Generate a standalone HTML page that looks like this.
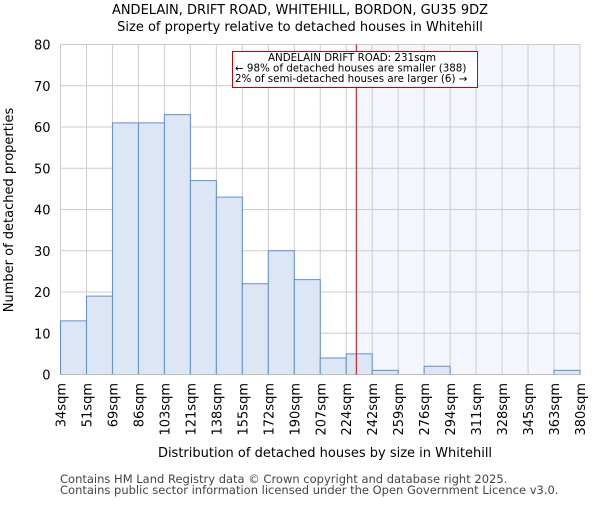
<!DOCTYPE html>
<html><head><meta charset="utf-8"><style>body{margin:0;background:#fff}svg{font-family:"DejaVu Sans","Liberation Sans",sans-serif}</style></head>
<body>
<svg id="c" width="600" height="500" xmlns="http://www.w3.org/2000/svg">
<text x="300" y="14" text-anchor="middle" font-size="13">ANDELAIN, DRIFT ROAD, WHITEHILL, BORDON, GU35 9DZ</text>
<text x="300" y="31" text-anchor="middle" font-size="13">Size of property relative to detached houses in Whitehill</text>
<g id="plot"></g>
<text x="325" y="457" text-anchor="middle" font-size="13">Distribution of detached houses by size in Whitehill</text>
<text transform="translate(13,210) rotate(-90)" text-anchor="middle" font-size="13">Number of detached properties</text>
<text x="60" y="483" font-size="11.5" fill="#444">Contains HM Land Registry data © Crown copyright and database right 2025.</text>
<text x="60" y="494" font-size="11.5" fill="#444">Contains public sector information licensed under the Open Government Licence v3.0.</text>
</svg>
<script>
const labels=["34sqm","51sqm","69sqm","86sqm","103sqm","121sqm","138sqm","155sqm","172sqm","190sqm","207sqm","224sqm","242sqm","259sqm","276sqm","294sqm","311sqm","328sqm","345sqm","363sqm","380sqm"];
const counts=[13,19,61,61,63,47,43,22,30,23,4,5,1,0,2,0,0,0,0,1];
const yTicks=[0,10,20,30,40,50,60,70,80];
const marker=231;
const binStart=34, binW=17.3;
const L=60.5,R=580,T=44.5,B=374.5,yMax=80;
const n=counts.length, bw=(R-L)/n;
const x=i=>L+i*bw, y=v=>B-(v/yMax)*(B-T);
const xv=v=>L+(v-binStart)/binW*bw;
const ns="http://www.w3.org/2000/svg",g=document.getElementById('plot');
function mk(t,a,p){const e=document.createElementNS(ns,t);for(const k in a)e.setAttribute(k,a[k]);(p||g).appendChild(e);return e;}
const mx=xv(marker);
let e=mk('rect',{x:mx,y:T,width:R-mx,height:B-T,fill:'#f3f6fd'});


for(let i=0;i<=n;i++){e=mk('line',{x1:x(i),x2:x(i),y1:T,y2:B,stroke:'#ccc','stroke-width':1});

}
yTicks.forEach(v=>{e=mk('line',{x1:L,x2:R,y1:y(v),y2:y(v),stroke:'#ccc','stroke-width':1});


e=mk('text',{x:L-10,y:y(v)+5,'text-anchor':'end','font-size':13});e.textContent=v;

});
counts.forEach((c,i)=>{if(c<=0)return;e=mk('rect',{x:x(i),y:y(c),width:bw,height:B-y(c),fill:'#dce6f5',stroke:'#5b8fd6','stroke-width':1});

});
labels.forEach((l,i)=>{e=mk('text',{transform:`translate(${x(i)+5},383) rotate(-90)`,'text-anchor':'end','font-size':13});e.textContent=l;

});
e=mk('line',{x1:L,x2:R,y1:B,y2:B,stroke:'#bbb'});


e=mk('line',{x1:mx,x2:mx,y1:T,y2:B,stroke:'#cc0000','stroke-width':1});


const ag=mk('g',{});


mk('rect',{x:232.5,y:51.5,width:245,height:36,fill:'#fff',stroke:'#cc0000'},ag);
[["ANDELAIN DRIFT ROAD: "+marker+"sqm",'middle',352,61],["← 98% of detached houses are smaller (388)",'start',235,71.5],["2% of semi-detached houses are larger (6) →",'start',235,82]].forEach(t=>{const tx=mk('text',{x:t[2],y:t[3],'text-anchor':t[1],'font-size':10.3},ag);tx.textContent=t[0];});
</script>
</body></html>
